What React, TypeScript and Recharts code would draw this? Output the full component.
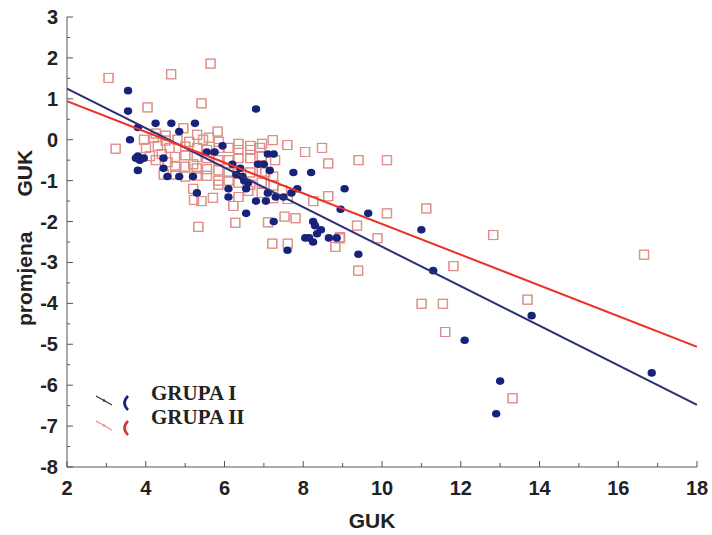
import React from 'react';
import { ScatterChart, Scatter, XAxis, YAxis } from 'recharts';

// GRUPA I (filled circles)
const grupa1: [number, number][] = [
  [3.55, 1.2], [3.55, 0.7], [6.8, 0.75], [4.25, 0.4], [4.65, 0.4], [5.25, 0.4], [3.8, 0.3], [3.6, 0.0],
  [3.8, -0.4], [3.85, -0.5], [3.8, -0.75], [3.95, -0.45], [3.75, -0.45], [4.45, -0.7], [4.55, -0.9],
  [4.85, -0.9], [5.2, -0.9], [5.55, -0.3], [4.85, 0.2], [4.45, -0.45], [6.1, -1.2], [6.1, -1.4],
  [6.5, -1.0], [6.55, -1.2], [6.55, -1.8], [6.8, -1.5], [7.05, -1.5], [7.1, -0.35], [7.25, -0.35],
  [6.85, -0.6], [7.0, -0.6], [7.1, -1.3], [7.25, -2.0], [7.6, -2.7], [7.75, -0.8], [7.85, -1.2],
  [8.2, -0.8], [8.05, -2.4], [8.15, -2.4], [8.25, -2.0], [8.3, -2.1], [8.35, -2.3], [8.45, -2.2],
  [8.25, -2.5], [8.65, -2.4], [8.85, -2.4], [8.95, -1.7], [9.05, -1.2], [9.4, -2.8], [9.65, -1.8],
  [11.0, -2.2], [11.3, -3.2], [12.1, -4.9], [13.0, -5.9], [12.9, -6.7], [13.8, -4.3], [16.85, -5.7],
  [6.3, -0.85], [6.45, -0.9], [5.95, -0.15], [5.75, -0.3], [6.6, -1.05], [7.3, -1.4], [7.5, -1.4],
  [6.2, -0.6], [7.15, -0.75], [6.4, -0.7], [5.3, -1.3], [7.7, -1.3],
];

// GRUPA II (open squares)
const grupa2: [number, number][] = [
  [3.05, 1.51], [4.64, 1.6], [5.64, 1.86], [5.41, 0.89], [4.04, 0.79], [3.23, -0.22], [4.95, 0.28],
  [5.82, 0.2], [7.22, -0.01], [7.59, -0.13], [8.04, -0.3], [8.47, -0.2], [8.63, -0.58], [9.4, -0.5],
  [10.12, -0.5], [7.28, -0.5], [7.03, -0.8], [7.23, -0.9], [7.46, -1.23], [7.23, -1.43], [8.25, -1.5],
  [8.63, -1.38], [5.2, -1.2], [5.22, -1.47], [5.41, -1.5], [5.7, -1.42], [5.33, -2.13], [6.22, -1.62],
  [6.27, -2.03], [7.1, -2.02], [7.21, -2.54], [7.6, -2.54], [7.8, -1.92], [7.52, -1.88], [9.36, -2.1],
  [10.12, -1.8], [11.12, -1.68], [8.81, -2.62], [8.92, -2.41], [9.88, -2.41], [9.39, -3.2],
  [12.82, -2.33], [11.81, -3.09], [11.0, -4.01], [11.54, -4.01], [11.6, -4.7], [13.69, -3.91],
  [13.31, -6.32], [16.65, -2.81], [8.93, -2.38],
  // dense cluster
  [4.25, 0.15], [4.5, 0.1], [5.3, 0.12], [5.6, 0.05],
  [3.95, 0.0], [4.2, 0.05], [4.5, -0.02], [4.8, 0.0], [5.1, -0.05], [5.45, 0.0], [5.85, -0.05],
  [6.35, -0.1], [6.65, -0.15], [6.95, -0.1],
  [4.0, -0.2], [4.3, -0.15], [4.6, -0.2], [5.0, -0.17], [5.3, -0.2], [5.55, -0.25], [5.85, -0.2],
  [6.1, -0.2], [6.35, -0.25], [6.65, -0.25], [6.9, -0.2],
  [4.1, -0.4], [4.4, -0.35], [4.74, -0.42], [5.0, -0.38], [5.29, -0.42], [5.55, -0.45], [5.84, -0.5],
  [6.1, -0.5], [6.35, -0.45], [6.65, -0.45], [6.94, -0.4],
  [4.74, -0.66], [5.0, -0.66], [5.29, -0.7], [5.55, -0.72], [5.84, -0.75], [6.1, -0.8], [6.35, -0.82],
  [6.65, -0.8], [6.94, -0.78],
  [5.0, -0.9], [5.29, -0.88], [5.55, -0.88], [5.84, -1.0], [6.1, -1.0], [6.35, -1.05], [6.65, -1.1],
  [6.94, -1.05], [7.24, -1.12],
  [5.84, -1.1], [6.35, -1.4], [6.6, -1.25], [6.94, -1.3], [7.6, -1.45],
  [4.55, -0.55], [4.25, -0.5], [4.45, -0.85], [4.75, -0.85], [5.2, -0.6],
];

// regression lines (endpoints at x = 2 and x = 18)
const linija1: [number, number][] = [[2, 1.25], [18, -6.48]];
const linija2: [number, number][] = [[2, 0.94], [18, -5.06]];

const X_TICKS = [2, 3, 4, 5, 6, 7, 8, 9, 10, 11, 12, 13, 14, 15, 16, 17, 18];
const Y_TICKS = [-8, -7.5, -7, -6.5, -6, -5.5, -5, -4.5, -4, -3.5, -3, -2.5, -2, -1.5, -1, -0.5,
  0, 0.5, 1, 1.5, 2, 2.5, 3];

const toPts = (arr: [number, number][]) => arr.map(([x, y]) => ({ x, y }));

const NAVY = '#17237a';
const LINE_BLUE = '#2b2f78';
const LINE_RED = '#ec3228';
const AXIS = '#555';
const SANS = "'Liberation Sans', Arial, sans-serif";

const Circle = (p: any) => <ellipse cx={p.cx} cy={p.cy} rx={4.2} ry={3.8} fill={NAVY} />;
const Square = (p: any) => (
  <g>
    <rect x={p.cx - 4} y={p.cy - 4.5} width={9} height={9} fill="none" stroke="#c9b27a" strokeWidth={1} />
    <rect x={p.cx - 4.5} y={p.cy - 4.5} width={9} height={9} fill="none" stroke="#e8848f" strokeWidth={1} />
  </g>
);
const NoShape = () => <g />;

const BottomTick = (p: any) => {
  const { x, y, payload } = p;
  const v = payload.value;
  return (
    <g>
      <line x1={x} x2={x} y1={y} y2={y - (v % 2 === 0 ? 6 : 4)} stroke={AXIS} />
      {v % 2 === 0 && (
        <text x={x} y={y + 28} textAnchor="middle" fontFamily={SANS} fontWeight="bold" fontSize={20} fill="#222">
          {v}
        </text>
      )}
    </g>
  );
};
const TopTick = (p: any) => (
  <line x1={p.x} x2={p.x} y1={p.y} y2={p.y + (p.payload.value % 2 === 0 ? 6 : 4)} stroke={AXIS} />
);
const LeftTick = (p: any) => {
  const { x, y, payload } = p;
  const v = payload.value;
  const major = Number.isInteger(v);
  return (
    <g>
      <line x1={x} x2={x + (major ? 6 : 3)} y1={y} y2={y} stroke={AXIS} />
      {major && (
        <text x={x - 9} y={y + 7} textAnchor="end" fontFamily={SANS} fontWeight="bold" fontSize={20} fill="#222">
          {v}
        </text>
      )}
    </g>
  );
};
const RightTick = (p: any) => (
  <line x1={p.x} x2={p.x - (Number.isInteger(p.payload.value) ? 6 : 3)} y1={p.y} y2={p.y} stroke={AXIS} />
);

const Icon = ({ color, lineColor, top }: { color: string; lineColor: string; top: number }) => (
  <svg width={40} height={22} style={{ position: 'absolute', left: 94, top }}>
    <line x1={2} y1={3} x2={18} y2={12} stroke={lineColor} strokeWidth={1.2} />
    <circle cx={10} cy={7.5} r={1.2} fill={lineColor} />
    <path d="M 34 3 Q 27 10 34 17" fill="none" stroke={color} strokeWidth={2.6} />
  </svg>
);

const App: React.FC = () => {
  return (
    <div style={{ position: 'absolute', left: 0, top: 0, width: 712, height: 535, background: '#fff' }}>
      <ScatterChart width={712} height={535} margin={{ top: 17, right: 15, bottom: 0, left: 0 }}>
        <XAxis
          type="number"
          dataKey="x"
          domain={[2, 18]}
          ticks={X_TICKS}
          interval={0}
          height={68}
          tickSize={0}
          tickMargin={0}
          tick={<BottomTick />}
          axisLine={{ stroke: AXIS }}
          allowDataOverflow
        />
        <XAxis
          xAxisId="top"
          orientation="top"
          type="number"
          domain={[2, 18]}
          ticks={X_TICKS}
          interval={0}
          height={0}
          tickSize={0}
          tickMargin={0}
          tick={<TopTick />}
          axisLine={{ stroke: AXIS }}
          allowDataOverflow
        />
        <YAxis
          type="number"
          dataKey="y"
          domain={[-8, 3]}
          ticks={Y_TICKS}
          interval={0}
          width={67}
          tickSize={0}
          tickMargin={0}
          tick={<LeftTick />}
          axisLine={{ stroke: AXIS }}
          allowDataOverflow
        />
        <YAxis
          yAxisId="right"
          orientation="right"
          type="number"
          domain={[-8, 3]}
          ticks={Y_TICKS}
          interval={0}
          width={0}
          tickSize={0}
          tickMargin={0}
          tick={<RightTick />}
          axisLine={{ stroke: AXIS }}
          allowDataOverflow
        />
        <Scatter data={toPts(grupa2)} shape={<Square />} isAnimationActive={false} />
        <Scatter data={toPts(grupa1)} shape={<Circle />} isAnimationActive={false} />
        <Scatter
          data={toPts(linija1)}
          line={{ stroke: LINE_BLUE, strokeWidth: 2 }}
          shape={<NoShape />}
          isAnimationActive={false}
        />
        <Scatter
          data={toPts(linija2)}
          line={{ stroke: LINE_RED, strokeWidth: 2 }}
          shape={<NoShape />}
          isAnimationActive={false}
        />
      </ScatterChart>

      <div
        style={{
          position: 'absolute',
          left: 372,
          top: 521,
          transform: 'translate(-50%, -50%)',
          fontFamily: SANS,
          fontWeight: 'bold',
          fontSize: 21,
          color: '#222',
        }}
      >
        GUK
      </div>
      <div
        style={{
          position: 'absolute',
          left: 25,
          top: 238,
          transform: 'translate(-50%, -50%) rotate(-90deg)',
          fontFamily: SANS,
          fontWeight: 'bold',
          fontSize: 21,
          color: '#222',
          whiteSpace: 'pre',
        }}
      >
        {'promjena      GUK'}
      </div>

      <Icon color={NAVY} lineColor="#333" top={393} />
      <Icon color="#e3313a" lineColor="#e88a8a" top={418} />
      <div
        style={{
          position: 'absolute',
          left: 151,
          top: 381,
          fontFamily: "'Liberation Serif', 'Times New Roman', serif",
          fontWeight: 'bold',
          fontSize: 21,
          lineHeight: '24px',
          color: '#222',
        }}
      >
        <div>GRUPA I</div>
        <div>GRUPA II</div>
      </div>
    </div>
  );
};

export default App;
